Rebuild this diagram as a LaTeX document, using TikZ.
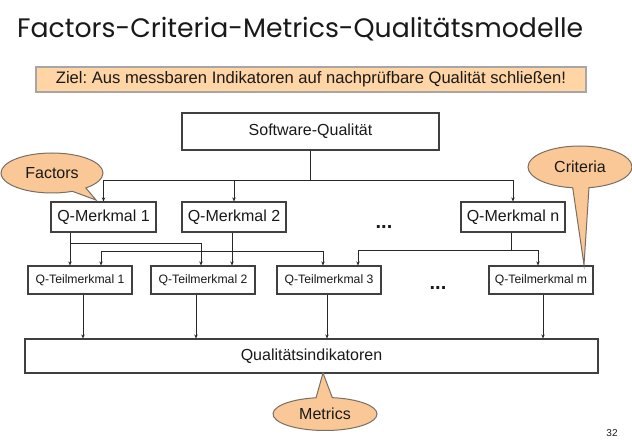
\documentclass[tikz,border=0pt]{standalone}
\usepackage{fontspec}
\setmainfont{Liberation Sans}
\newfontfamily\titlefont{Poppins}
\usetikzlibrary{shapes.callouts,arrows.meta}
\definecolor{peach}{RGB}{250,200,150}
\definecolor{goalfill}{RGB}{255,213,165}
\definecolor{boxline}{RGB}{64,64,64}
\definecolor{conline}{RGB}{40,40,40}
\definecolor{callline}{RGB}{120,110,100}
\definecolor{txt}{RGB}{25,25,25}
\frenchspacing
\tikzset{
  qbox/.style={draw=boxline, line width=1.2pt, fill=white, inner sep=0pt, text=txt},
  big/.style={font=\fontsize{16}{16}\selectfont},
  small/.style={font=\fontsize{12.2}{12.2}\selectfont},
  ln/.style={draw=conline, line width=0.9pt},
  arr/.style={ln, -{Stealth[length=4pt,width=3.5pt]}},
  bubble/.style={ellipse callout, draw=callline, line width=1pt, fill=peach, inner sep=0pt,
    text=txt, font=\fontsize{16}{16}\selectfont, callout pointer arc=18},
  dotsnode/.style={font=\bfseries\fontsize{20}{20}\selectfont, text=txt},
}
\begin{document}
\begin{tikzpicture}[x=1pt,y=-1pt]
\useasboundingbox (0,0) rectangle (632,441);
% title
\node[anchor=base west, inner sep=0pt, text=txt, font=\titlefont\fontsize{26.7}{26.7}\selectfont] (title) at (17,38) {Factors-Criteria-Metrics-Qualitätsmodelle};
% goal
\node[draw=black!35, line width=1.2pt, fill=goalfill, inner sep=0pt, text=txt, font=\fontsize{16.6}{16.6}\selectfont,
  minimum width=550pt, minimum height=25pt] (goal) at (311,79.5) {Ziel: Aus messbaren Indikatoren auf nachprüfbare Qualität schließen!};
% boxes
\node[qbox, big, minimum width=257pt, minimum height=37pt] (SQ) at (310.5,131.5) {Software-Qualität};
\node[qbox, big, minimum width=105pt, minimum height=30pt] (QM1) at (103.5,217) {Q-Merkmal 1};
\node[qbox, big, minimum width=104pt, minimum height=30pt] (QM2) at (234,217) {Q-Merkmal 2};
\node[qbox, big, minimum width=104pt, minimum height=30pt] (QMn) at (513,217) {Q-Merkmal n};
\node[qbox, small, minimum width=104pt, minimum height=28pt] (TM1) at (80,280) {Q-Teilmerkmal 1};
\node[qbox, small, minimum width=104pt, minimum height=28pt] (TM2) at (203,280) {Q-Teilmerkmal 2};
\node[qbox, small, minimum width=104pt, minimum height=28pt] (TM3) at (329,280) {Q-Teilmerkmal 3};
\node[qbox, small, minimum width=104pt, minimum height=28pt] (TMm) at (541,280) {Q-Teilmerkmal m};
\node[qbox, big, minimum width=573pt, minimum height=34pt] (QI) at (311.5,356) {Qualitätsindikatoren};
\node[dotsnode] (d1) at (384,227) {...};
\node[dotsnode] (d2) at (438,288) {...};
% connectors top
\coordinate (bus) at (310.5,180);
\draw[ln] (SQ.south) -- (bus);
\draw[arr] (bus) -| (QM1.north);
\draw[arr] (bus) -| (QM2.north);
\draw[arr] (bus) -| (QMn.north);
% QM1
\coordinate (m1) at (70,243);
\coordinate (m1r) at (201,243);
\draw[arr] (QM1.south -| m1) -- (TM1.north -| m1);
\draw[arr] (m1) -- (m1r) -- (TM2.north -| m1r);
% QM2
\coordinate (m2) at (232,251);
\coordinate (m2l) at (101,251);
\coordinate (m2r) at (323,251);
\draw[arr] (QM2.south -| m2) -- (TM2.north -| m2);
\draw[arr] (m2) -- (m2l) -- (TM1.north -| m2l);
\draw[arr] (m2) -- (m2r) -- (TM3.north -| m2r);
% QMn
\coordinate (mn) at (511,250);
\coordinate (mnl) at (358,250);
\coordinate (mnr) at (538,250);
\draw[ln] (QMn.south -| mn) -- (mn);
\draw[arr] (mn) -- (mnl) -- (TM3.north -| mnl);
\draw[arr] (mn) -- (mnr) -- (TMm.north -| mnr);
% TM to QI
\coordinate (k1) at (83,0);
\coordinate (k2) at (196,0);
\coordinate (k3) at (327,0);
\coordinate (k4) at (543,0);
\draw[arr] (TM1.south -| k1) -- (QI.north -| k1);
\draw[arr] (TM2.south -| k2) -- (QI.north -| k2);
\draw[arr] (TM3.south -| k3) -- (QI.north -| k3);
\draw[arr] (TMm.south -| k4) -- (QI.north -| k4);
% callouts
\coordinate (ftip) at (96,200);
\coordinate (ctip) at (584,265);
\coordinate (mtip) at (323,373);
\node[bubble, minimum width=102pt, minimum height=40pt, callout absolute pointer={(ftip)}] (fac) at (52,173) {Factors};
\node[bubble, minimum width=104pt, minimum height=42pt, callout absolute pointer={(ctip)}] (cri) at (580,167) {Criteria};
\node[bubble, minimum width=104pt, minimum height=33pt, callout absolute pointer={(mtip)}] (met) at (325,414) {Metrics};
% page number
\node[inner sep=0pt, text=txt, font=\fontsize{10}{10}\selectfont] (pg) at (612,433) {32};
\end{tikzpicture}
\end{document}
